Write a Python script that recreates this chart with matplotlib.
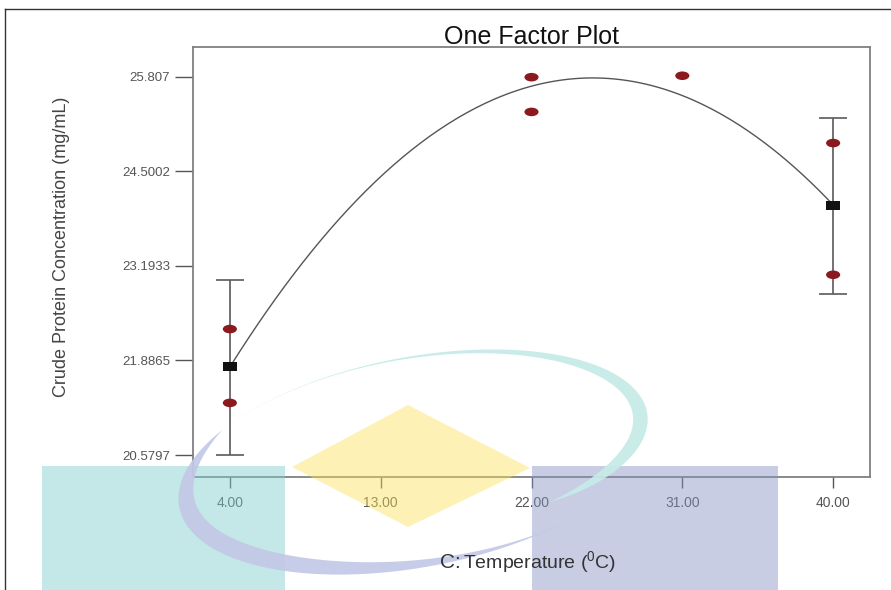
import numpy as np
import matplotlib
matplotlib.use("Agg")
import matplotlib.pyplot as plt
from matplotlib.markers import MarkerStyle
from matplotlib.transforms import Affine2D
from matplotlib.patches import Polygon
from matplotlib.lines import Line2D

plt.rcParams['font.family'] = ['Liberation Sans', 'DejaVu Sans']
plt.rcParams['mathtext.fontset'] = 'custom'
plt.rcParams['mathtext.rm'] = 'Liberation Sans'

W, H = 891, 590

# -----------------------------
# Data
# -----------------------------
temp_ticks = [4, 13, 22, 31, 40]
conc_ticks = [20.5797, 21.8865, 23.1933, 24.5002, 25.807]
conc_tick_labels = ['20.5797', '21.8865', '23.1933', '24.5002', '25.807']

# design points (red)
design_temp = [4, 4, 22, 22, 31, 40, 40]
design_conc = [22.32, 21.30, 25.80, 25.32, 25.82, 24.89, 23.07]

# predicted means with LSD bars
mean_temp = [4, 40]
mean_conc = [21.80, 24.03]
bar_low = [20.58, 22.80]
bar_high = [23.00, 25.23]

# model line, read at the tick positions
curve_temp = [4, 13, 22, 31, 40]
curve_conc = [21.80, 24.42, 25.67, 25.56, 24.03]


def fig_pts(pts):
    # image pixels (y down) -> figure fraction
    return [(x / W, 1 - y / H) for x, y in pts]


fig = plt.figure(figsize=(W / 100, H / 100), dpi=100)
ax = fig.add_axes([193 / W, 1 - 477 / H, (870 - 193) / W, (477 - 47) / H])

# model curve
coef = np.polyfit(curve_temp, curve_conc, 2)
xs = np.linspace(curve_temp[0], curve_temp[-1], 200)
ax.plot(xs, np.polyval(coef, xs), color='#555555', lw=1.0, zorder=2)

# error bars
yerr = [np.array(mean_conc) - np.array(bar_low), np.array(bar_high) - np.array(mean_conc)]
ax.errorbar(mean_temp, mean_conc, yerr=yerr, fmt='none', ecolor='#5a5a5a',
            elinewidth=1.2, capsize=10, capthick=1.2, zorder=3)

# design points and means
oval = MarkerStyle('o', transform=Affine2D().scale(1.65, 1.0))
box = MarkerStyle('s', transform=Affine2D().scale(1.65, 1.0))
ax.scatter(design_temp, design_conc, marker=oval, s=38, color='#8b1a1f',
           edgecolors='none', zorder=4)
ax.scatter(mean_temp, mean_conc, marker=box, s=40, color='#111111',
           edgecolors='none', zorder=5)

ax.set_xlim(1.8, 42.2)
ax.set_ylim(20.276, 26.217)
ax.set_xticks(temp_ticks)
ax.set_xticklabels([f'{t:.2f}' for t in temp_ticks])
ax.set_yticks(conc_ticks)
ax.set_yticklabels(conc_tick_labels)

for s in ax.spines.values():
    s.set_color('#808080')
    s.set_linewidth(1.3)
ax.tick_params(axis='y', direction='out', length=13, width=1, color='#555555',
               labelsize=9.5, labelcolor='#555555', pad=3.5)
ax.tick_params(axis='x', direction='out', length=8, width=1, color='#555555',
               labelsize=10, labelcolor='#555555', pad=5.5)

# titles and labels
fig.text(531 / W, 1 - 37 / H, 'One Factor Plot', ha='center', va='center',
         fontsize=18, color='#111111')
fig.text(62 / W, 1 - 247 / H, 'Crude Protein Concentration (mg/mL)', rotation=90,
         ha='center', va='center', fontsize=13, color='#444444')
fig.text(461 / W, 1 - 568 / H, 'C:', ha='right', va='baseline', fontsize=15,
         color='#333333')
fig.text(463 / W, 1 - 568 / H, r'Temperature ($\mathregular{^0}$C)', ha='left',
         va='baseline', fontsize=14, color='#333333')

# outer frame
fig.add_artist(Line2D([5 / W, 1], [1 - 9 / H, 1 - 9 / H], color='#333333', lw=1))
fig.add_artist(Line2D([5 / W, 5 / W], [0, 1 - 9 / H], color='#333333', lw=1))

# -----------------------------
# Watermark shapes
# -----------------------------
alpha = 0.45
fig.add_artist(Polygon(fig_pts([(42, 466), (285, 466), (285, 590), (42, 590)]),
                       closed=True, transform=fig.transFigure, color=(124/255, 206/255, 202/255),
                       alpha=alpha, lw=0))
fig.add_artist(Polygon(fig_pts([(532, 466), (778, 466), (778, 590), (532, 590)]),
                       closed=True, transform=fig.transFigure, color=(133/255, 146/255, 193/255),
                       alpha=alpha, lw=0))
fig.add_artist(Polygon(fig_pts([(292, 467), (408, 405), (530, 468), (408, 527)]),
                       closed=True, transform=fig.transFigure, color=(251/255, 226/255, 91/255),
                       alpha=alpha, lw=0))

cx, cy, ra, rb = 416, 462, 241, 105
phi = np.deg2rad(-10.8)
ux, uy = np.cos(phi), np.sin(phi)
vx, vy = -np.sin(phi), np.cos(phi)


def swoosh(t0, t1, wmax, p, shrink=0.0):
    t = np.deg2rad(np.linspace(t0, t1, 150))
    s = np.linspace(0, 1, 150)
    w = wmax * np.sin(np.pi * s ** p)
    k = 1 - shrink * s ** 8
    ox = cx + ra * k * np.cos(t) * ux + rb * k * np.sin(t) * vx
    oy = cy + ra * k * np.cos(t) * uy + rb * k * np.sin(t) * vy
    ix = cx + (ra * k - w) * np.cos(t) * ux + (rb * k - w) * np.sin(t) * vx
    iy = cy + (ra * k - w) * np.cos(t) * uy + (rb * k - w) * np.sin(t) * vy
    pts = list(zip(ox, oy)) + list(zip(ix[::-1], iy[::-1]))
    return fig_pts(pts)


fig.add_artist(Polygon(swoosh(205, 410, 15, 2.9, shrink=0.2), closed=True,
                       transform=fig.transFigure, color='#c6ebe8', alpha=0.92, lw=0))
fig.add_artist(Polygon(swoosh(55, 220, 20, 1.4), closed=True,
                       transform=fig.transFigure, color='#c3c8e6', alpha=0.92, lw=0))

fig.savefig('out.png', dpi=100)
